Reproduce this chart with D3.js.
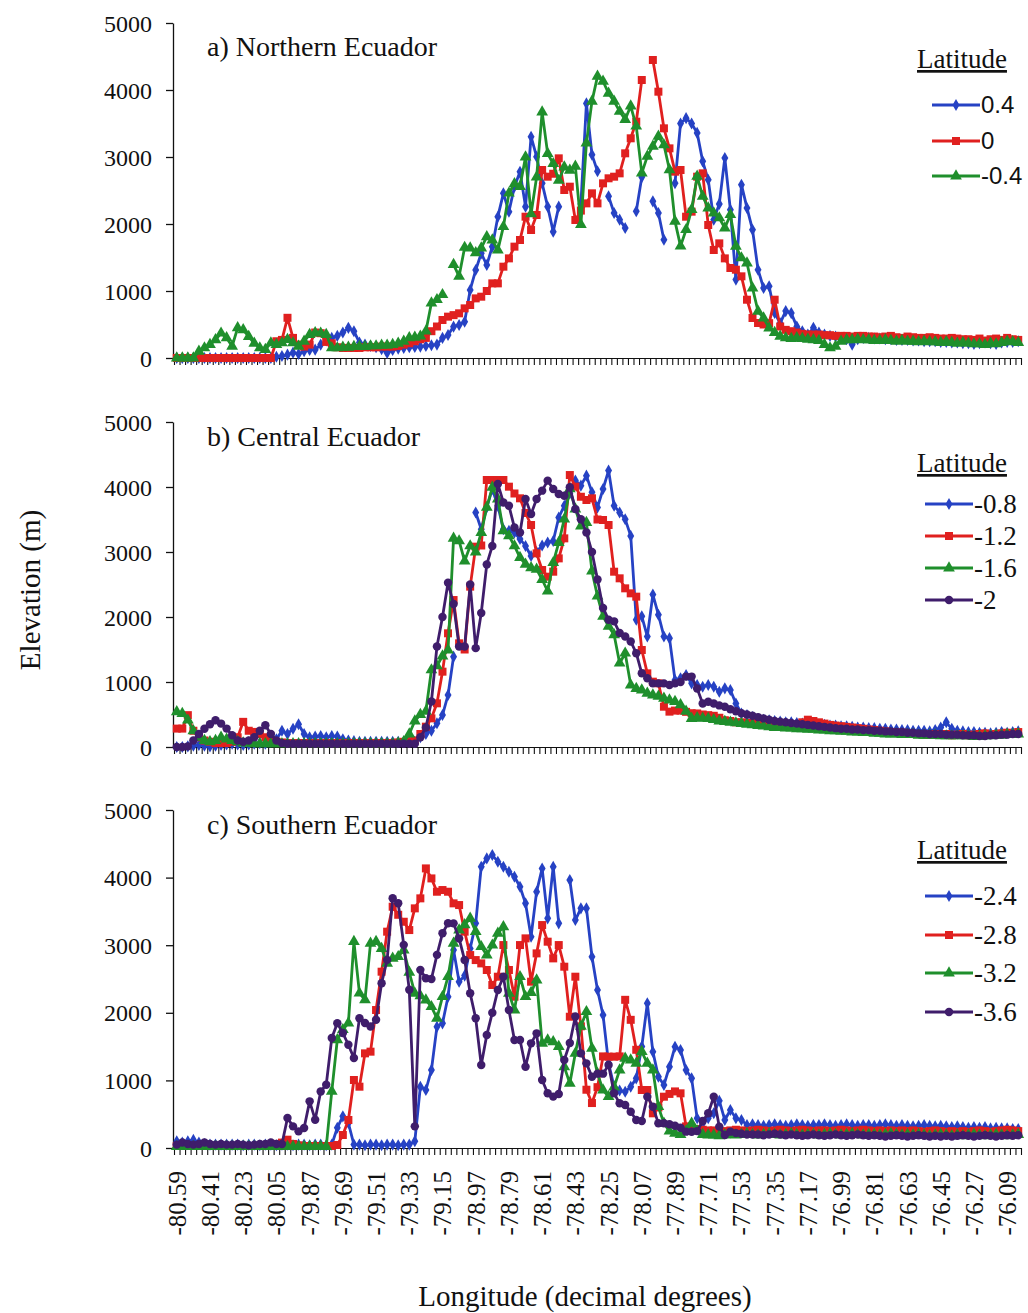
<!DOCTYPE html>
<html>
<head>
<meta charset="utf-8">
<script src="https://cdn.jsdelivr.net/npm/d3@7"></script>
<style>
  body { margin: 0; background: #fff; }
  text { font-family: "Liberation Serif", "Times New Roman", serif; fill: #111; }
</style>
</head>
<body>
<svg id="chart" width="1028" height="1313"></svg>
<script>
// longitude categories (every 0.03 deg), labels every 6th category
const lonStart = -80.59, lonStep = 0.03, lonCount = 153;
const longitudes = d3.range(lonCount).map(i => (lonStart + i * lonStep).toFixed(2));
const labelEvery = 6;
const elevTicks = [0, 1000, 2000, 3000, 4000, 5000];

// a) Northern Ecuador
const latA = ["0.4", "0", "-0.4"];
const aLat04 = [
0,0,0,0,0,0,0,0,0,0,
0,0,0,0,0,0,0,0,20,30,
50,80,60,100,120,125,200,260,300,330,
380,450,400,230,200,180,160,130,75,120,
140,150,160,165,170,180,190,200,300,343,
468,493,542,1015,1313,1562,1388,1662,2109,2458,
2184,2557,2781,2259,3303,3005,2607,2259,1886,2259,
null,null,null,2300,3800,3035,2786,null,2413,2164,
2065,1940,null,2190,2700,null,2338,2164,1766,null,
2610,3500,3580,3500,3360,2935,2660,2065,2300,2985,
2214,1170,2587,2240,1915,1318,1045,1070,672,520,
700,670,470,400,350,450,380,350,330,320,
300,280,200,280,300,300,290,290,280,280,
270,270,270,260,260,250,250,250,240,240,
230,230,220,220,210,220,230,220,210,230,
240,240,250];
const aLat0 = [
0,0,0,0,0,0,0,0,0,0,
0,0,0,0,0,0,0,0,250,270,
600,300,200,170,200,380,370,240,220,160,
150,150,150,150,160,160,160,170,170,170,
180,200,220,250,280,300,400,470,567,617,
640,667,741,791,890,915,1000,1114,1114,1363,
1487,1662,1761,2109,1910,2134,2806,2706,2750,2980,
2507,2557,2060,2200,2308,2458,2308,2607,2682,2706,
2756,3055,3279,3527,4149,null,4448,3975,3428,3129,
2781,2806,2109,2184,2706,2756,1985,1612,1711,1487,
1343,1318,1219,870,597,522,500,520,870,470,
420,400,380,360,350,350,350,340,340,330,
330,330,320,330,330,320,320,310,320,330,
310,300,320,310,300,300,310,300,290,290,
300,290,280,280,270,290,260,280,290,270,
300,280,270];
const aLatM04 = [
0,0,0,0,100,150,200,270,370,300,
175,450,420,320,220,150,125,225,200,225,
275,225,175,250,350,375,370,350,150,150,
160,160,170,170,170,180,180,190,190,200,
220,250,300,310,325,400,820,870,945,null,
1393,1219,1650,1640,1570,1640,1810,1760,1610,1960,
2460,2600,2560,3000,2150,2700,3670,3050,2900,2650,
2850,2800,2860,1990,3209,3831,4204,4130,3950,3830,
3680,3560,3760,3460,2760,3010,3160,3310,3180,2810,
2040,1670,1915,2214,2711,2413,2239,2164,2090,1940,
2139,1667,1493,1418,1045,697,597,448,380,323,
299,290,300,290,280,270,260,200,150,174,
250,270,270,280,270,270,260,260,270,260,
250,260,250,250,240,250,240,240,230,240,
230,220,230,220,210,210,200,220,210,230,
250,240,230];

// b) Central Ecuador
const latB = ["-0.8", "-1.2", "-1.6", "-2"];
const bLatM08 = [
0,0,10,20,30,20,10,20,30,40,
50,40,30,40,50,60,50,80,120,250,
200,280,350,200,150,160,170,150,170,160,
120,100,90,80,80,80,80,80,80,80,
80,80,80,80,150,200,250,364,492,800,
1390,null,null,null,3608,3350,3686,3970,3712,3350,
3325,3299,3200,3093,2938,3000,3100,3145,3170,3531,
3711,3900,4100,4021,4175,3918,3686,3969,4253,3712,
3608,3505,3248,1959,2010,1701,2345,2036,1701,1675,
1031,1057,1108,979,954,928,954,928,850,902,
876,670,515,490,460,430,420,410,400,390,
380,380,370,360,350,350,340,340,330,330,
320,320,310,300,300,290,290,280,280,270,
270,260,260,250,250,250,240,260,300,380,
280,250,240,230,230,220,220,210,220,230,
220,230,240];
const bLatM12 = [
283,283,490,250,150,100,80,60,60,60,
80,150,387,250,232,200,150,100,80,70,
60,60,60,60,60,60,60,60,60,60,
60,60,60,60,60,60,60,60,60,60,
70,80,90,100,200,313,441,672,1159,1749,
2261,1595,1500,2467,3082,3100,4108,4108,4108,4108,
4005,3900,3826,3600,3415,2979,2723,2620,2697,2902,
3210,4184,4005,3850,3800,3826,3500,3492,3415,2697,
2595,2441,2364,2313,1492,1133,1005,980,620,544,
560,560,541,520,516,500,490,480,450,412,
400,380,380,370,370,360,350,350,340,330,
320,320,330,380,420,400,380,360,340,330,
320,310,300,290,280,270,260,250,240,230,
220,220,210,200,200,190,190,200,190,200,
180,190,200,180,190,200,210,190,200,210,
220,200,230];
const bLatM16 = [
541,515,412,250,150,100,80,100,150,120,
100,80,60,60,50,50,50,50,50,50,
50,50,50,50,50,50,50,50,50,50,
50,50,50,50,50,50,50,50,50,50,
60,80,200,400,500,550,1185,1250,1400,1490,
3210,3170,2861,3093,3000,3300,3686,3995,3815,3325,
3248,3093,2913,2810,2758,2732,2577,2397,2835,3145,
3505,3970,3660,3400,3454,2706,2320,2010,1856,1727,
1289,1443,954,900,876,825,800,780,750,722,
700,650,550,438,450,440,438,420,400,390,
380,370,360,350,340,330,320,310,300,300,
290,290,280,280,270,270,260,260,250,250,
240,240,230,230,220,220,210,210,200,200,
200,190,190,190,180,180,180,180,170,170,
170,170,170,170,160,160,170,170,180,180,
190,190,200];
const bLatM2 = [
0,0,10,100,200,280,350,412,360,283,
180,100,80,100,150,250,335,200,100,60,
50,50,50,50,50,50,50,50,50,50,
50,50,50,50,50,50,50,50,50,50,
50,50,50,50,150,300,700,1546,2000,2526,
2200,1546,1546,2500,1521,2062,2809,3093,4047,3763,
3712,3376,3299,3815,3583,3815,3944,4098,3970,3892,
3866,3995,3660,3505,3300,3000,2577,2139,1959,1933,
1753,1701,1624,1443,1134,1057,979,979,979,954,
979,1000,1083,1083,900,670,696,670,640,618,
580,550,520,500,480,460,440,420,400,390,
380,370,360,350,340,330,320,310,300,290,
280,280,270,270,260,260,250,250,240,240,
230,230,220,220,210,210,200,200,200,190,
190,190,180,180,180,170,170,180,180,190,
190,200,200];

// c) Southern Ecuador
const latC = ["-2.4", "-2.8", "-3.2", "-3.6"];
const cLatM24 = [
100,80,100,120,80,60,50,50,50,50,
50,50,40,50,50,40,50,50,40,50,
50,40,50,50,40,50,50,40,50,300,
468,370,50,50,40,50,50,40,50,50,
40,50,50,100,907,858,1154,1795,1844,2238,
2928,2460,2550,2950,3323,4161,4284,4333,4235,4161,
4087,4013,3865,3619,3126,3791,4136,3397,4161,3323,
null,3964,3372,3545,3545,2830,2337,1967,1252,907,
850,833,907,1030,1500,2140,1425,1055,932,1203,
1499,1449,1154,1030,439,365,439,513,700,414,
562,439,414,340,350,340,330,340,350,340,
330,340,350,340,330,340,340,350,340,330,
340,350,340,330,340,340,330,340,350,340,
330,340,330,320,330,340,330,320,330,320,
310,320,310,300,310,300,310,290,300,290,
290,280,280];
const cLatM28 = [
30,30,30,30,30,30,30,30,30,30,
30,30,30,30,30,30,40,50,60,80,
123,60,40,30,30,30,30,30,30,44,
192,414,1006,907,1400,1425,2041,2608,3200,3569,
3450,3347,3224,3545,3693,4136,3988,3791,3816,3791,
3619,3594,3200,2854,2780,2731,2633,2411,2534,3002,
2633,2238,3002,3101,2460,2879,3298,3052,2805,3002,
2682,1942,2534,1800,862,665,900,1355,1351,1351,
1355,2192,1896,1453,858,858,513,600,759,800,
837,809,320,300,280,270,260,260,250,250,
260,270,260,250,260,270,260,250,260,270,
260,250,260,270,260,250,260,260,250,260,
270,260,250,260,270,260,250,260,250,260,
250,260,250,260,250,240,250,260,250,240,
250,240,250,240,250,260,250,240,250,260,
270,260,250];
const cLatM32 = [
20,20,20,20,20,20,20,20,20,20,
20,20,20,20,20,20,20,20,20,20,
20,20,20,20,20,20,20,20,837,1601,
1750,1847,3054,2290,2192,3029,3054,2950,2731,2805,
2830,2928,2600,2288,2250,2189,2090,1918,2238,2534,
3027,3224,3300,3397,3200,2978,2854,3000,3175,3273,
2288,2041,2534,2238,2300,2485,1548,1597,1570,1500,
1200,956,1400,1800,2016,1474,1100,858,759,900,
1154,1326,1300,1252,1425,1252,1154,611,365,250,
217,200,250,365,250,200,190,192,180,190,
200,190,200,210,200,190,200,210,200,190,
200,210,200,190,200,200,190,200,210,200,
190,200,210,200,190,200,200,190,200,210,
200,190,200,190,200,190,180,190,200,190,
180,190,180,190,200,190,180,190,200,190,
180,190,200];
const cLatM36 = [
50,80,60,50,60,80,60,50,60,50,
50,60,50,40,50,60,60,80,60,60,
443,320,246,296,690,419,837,936,1626,1847,
1700,1527,1330,1921,1850,1798,1896,2438,2783,3695,
3620,3005,2340,320,2635,2512,2500,2857,3177,3325,
3323,3100,2780,2288,1918,1228,1671,2000,2337,2534,
2041,1597,1597,1203,1548,1696,1006,809,760,800,
1302,1552,1946,1400,1252,1055,1100,1100,1228,809,
661,636,537,414,400,759,611,365,365,350,
330,300,242,240,250,400,513,759,316,192,
242,220,210,200,200,200,190,200,210,200,
190,200,190,180,190,200,190,180,190,200,
190,180,190,200,190,180,190,180,170,180,
190,180,170,180,190,180,170,180,170,180,
170,180,190,180,170,180,190,180,170,180,
190,180,190];

const styles = [
  { color: "#2642c4", symbol: d3.symbolDiamond, size: 42 },
  { color: "#e0201f", symbol: d3.symbolSquare, size: 64 },
  { color: "#1f8f2c", symbol: d3.symbolTriangle, size: 60 },
  { color: "#3f1d6b", symbol: d3.symbolCircle, size: 56 }
];

const panels = [
  { title: "a) Northern Ecuador", y0: 358, y1: 23, titleY: 56,
    labels: latA, series: [aLat04, aLat0, aLatM04],
    legendY: 68, legendRows: [105, 141, 176], legendX: 932, legendSans: true },
  { title: "b) Central Ecuador", y0: 747, y1: 422, titleY: 446,
    labels: latB, series: [bLatM08, bLatM12, bLatM16, bLatM2],
    legendY: 472, legendRows: [504, 536, 568, 600], legendX: 925, legendSans: false },
  { title: "c) Southern Ecuador", y0: 1148, y1: 810, titleY: 834,
    labels: latC, series: [cLatM24, cLatM28, cLatM32, cLatM36],
    legendY: 859, legendRows: [896, 935, 973, 1012], legendX: 925, legendSans: false }
];

const svg = d3.select("#chart");
const x = d3.scaleLinear().domain([-0.5, lonCount - 0.5]).range([174, 1021]);

panels.forEach((p, pi) => {
  const y = d3.scaleLinear().domain([0, 5000]).range([p.y0, p.y1]);
  const g = svg.append("g");

  // y axis
  g.append("g")
      .attr("transform", "translate(173,0)")
      .call(d3.axisLeft(y).tickValues(elevTicks).tickFormat(d3.format("d"))
        .tickSize(7).tickPadding(14).tickSizeOuter(0))
      .call(s => s.selectAll("text").style("font-size", "24px").attr("dy", "0.34em"))
      .call(s => s.selectAll("line,path").attr("stroke", "#111").attr("stroke-width", 1.3));

  // x axis: tick marks between categories
  g.append("g")
      .attr("transform", `translate(0,${p.y0})`)
      .call(d3.axisBottom(x).tickValues(d3.range(-0.5, lonCount, 1)).tickFormat("").tickSize(7).tickSizeOuter(0))
      .call(s => s.selectAll("line,path").attr("stroke", "#111").attr("stroke-width", 1.1));

  // longitude labels under the last panel only
  if (pi === panels.length - 1) {
    g.append("g")
        .attr("transform", `translate(0,${p.y0})`)
        .call(d3.axisBottom(x)
          .tickValues(d3.range(0, lonCount, labelEvery))
          .tickFormat(i => longitudes[i]).tickSize(0))
        .call(s => s.select(".domain").remove())
        .call(s => s.selectAll("text")
          .style("font-size", "25px")
          .attr("text-anchor", "end")
          .attr("transform", "rotate(-90)")
          .attr("x", -23).attr("y", 0).attr("dy", "0.34em"));
  }

  // series lines and markers
  p.series.forEach((vals, si) => {
    const st = styles[si];
    const line = d3.line()
        .defined(d => d != null)
        .x((d, i) => x(i))
        .y(d => y(d));
    g.append("path")
        .datum(vals)
        .attr("fill", "none")
        .attr("stroke", st.color)
        .attr("stroke-width", 2.8)
        .attr("stroke-linejoin", "round")
        .attr("d", line);
    const sym = d3.symbol().type(st.symbol).size(st.size);
    g.append("g").selectAll("path")
      .data(vals.map((v, i) => [i, v]).filter(d => d[1] != null))
      .join("path")
        .attr("transform", d => `translate(${x(d[0])},${y(d[1])})`)
        .attr("d", sym)
        .attr("fill", st.color);
  });

  // panel title
  g.append("text")
      .attr("x", 207).attr("y", p.titleY)
      .style("font-size", "28px")
      .text(p.title);

  // legend
  const lg = g.append("g");
  lg.append("text")
      .attr("x", 917).attr("y", p.legendY)
      .style("font-size", "27px")
      .style("text-decoration", "underline")
      .text("Latitude");
  p.labels.forEach((lab, li) => {
    const st = styles[li];
    const ly = p.legendRows[li];
    lg.append("line")
        .attr("x1", p.legendX).attr("x2", p.legendX + 48)
        .attr("y1", ly).attr("y2", ly)
        .attr("stroke", st.color).attr("stroke-width", 3);
    lg.append("path")
        .attr("transform", `translate(${p.legendX + 24},${ly})`)
        .attr("d", d3.symbol().type(st.symbol).size(st.size)())
        .attr("fill", st.color);
    lg.append("text")
        .attr("x", p.legendX + 49).attr("y", ly)
        .attr("dy", "0.35em")
        .style("font-size", p.legendSans ? "24px" : "27px")
        .style("font-family", p.legendSans ? "'Liberation Sans', Arial, sans-serif" : null)
        .text(lab);
  });
});

// axis titles
svg.append("text")
    .attr("transform", "translate(40,590) rotate(-90)")
    .attr("text-anchor", "middle")
    .style("font-size", "29px")
    .text("Elevation (m)");
svg.append("text")
    .attr("x", 585).attr("y", 1306)
    .attr("text-anchor", "middle")
    .style("font-size", "29px")
    .text("Longitude (decimal degrees)");
</script>
</body>
</html>
